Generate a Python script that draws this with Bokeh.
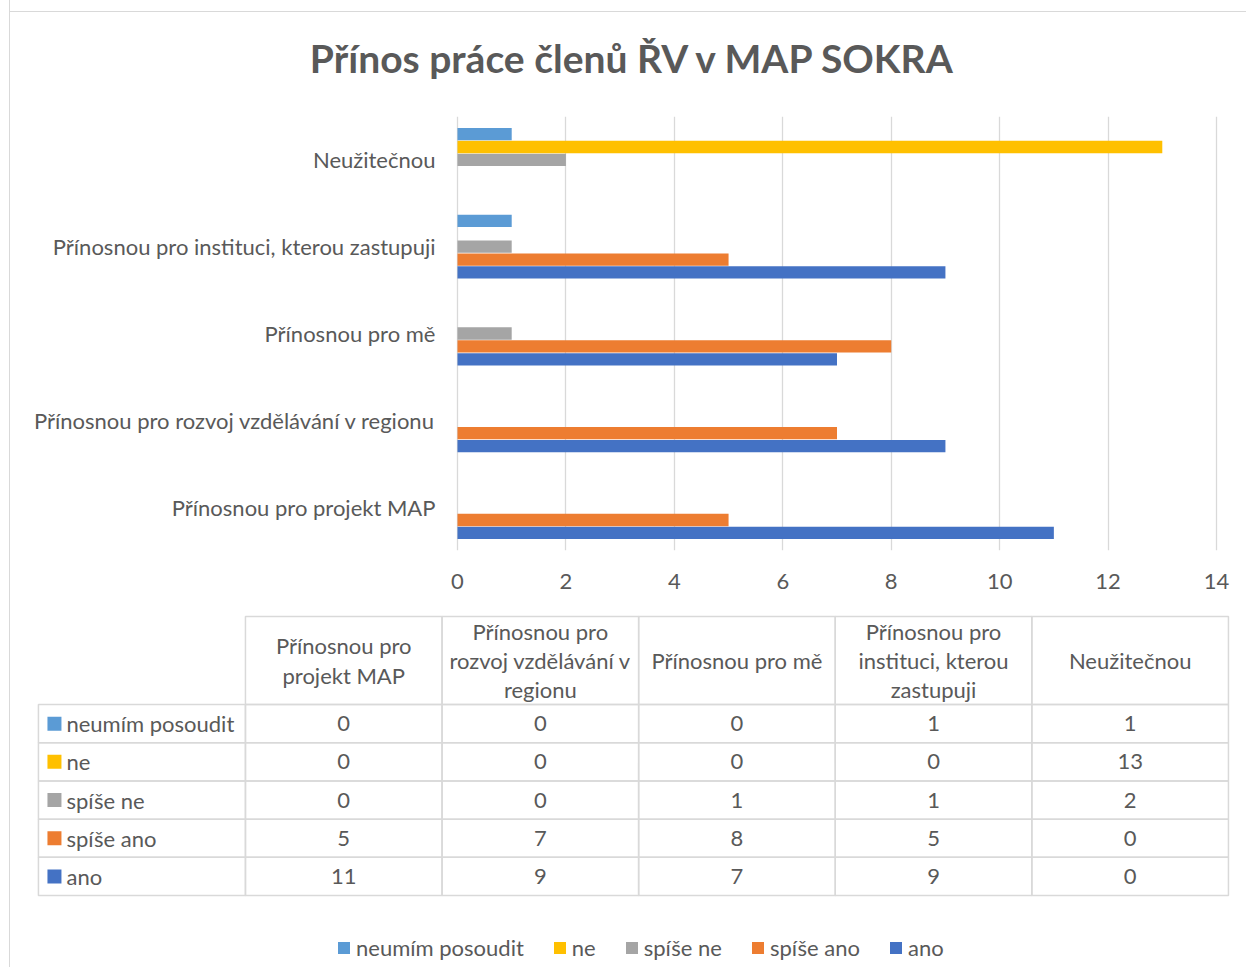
from bokeh.plotting import figure
from bokeh.models import (FactorRange, Range1d, FixedTicker, ColumnDataSource,
                          Legend, LegendItem)
from bokeh.transform import dodge
from bokeh.layouts import column
from bokeh.core.properties import value
from bokeh.embed import file_html
from bokeh.resources import INLINE

# ---------------- data ----------------
title_text = "Přínos práce členů ŘV v MAP SOKRA"
categories = [
    "Přínosnou pro projekt MAP",
    "Přínosnou pro rozvoj vzdělávání v regionu",
    "Přínosnou pro mě",
    "Přínosnou pro instituci, kterou zastupuji",
    "Neužitečnou",
]
header_labels = [
    "Přínosnou pro\nprojekt MAP",
    "Přínosnou pro\nrozvoj vzdělávání v\nregionu",
    "Přínosnou pro mě",
    "Přínosnou pro\ninstituci, kterou\nzastupuji",
    "Neužitečnou",
]
series_names = ["ano", "spíše ano", "spíše ne", "ne", "neumím posoudit"]
series_colors = ["#4472C4", "#ED7D31", "#A5A5A5", "#FFC000", "#5B9BD5"]
ano = [11, 9, 7, 9, 0]
spise_ano = [5, 7, 8, 5, 0]
spise_ne = [0, 0, 1, 1, 2]
ne = [0, 0, 0, 0, 13]
neumim_posoudit = [0, 0, 0, 1, 1]
series_values = [ano, spise_ano, spise_ne, ne, neumim_posoudit]
x_ticks = [0, 2, 4, 6, 8, 10, 12, 14]

TEXT = "#595959"
GRID = "#D9D9D9"
FONT = "Lato"
FS = "22px"

# ---------------- bar chart ----------------
p = figure(width=1236, height=610,
           y_range=FactorRange(factors=categories),
           x_range=Range1d(-7.802, 14.295),
           y_axis_location=None,
           output_backend="svg", toolbar_location=None,
           min_border_left=24, min_border_right=14,
           min_border_top=121, min_border_bottom=55)
p.border_fill_color = None
p.background_fill_color = None

src = ColumnDataSource(dict(cat=categories,
                            **{f"s{k}": v for k, v in enumerate(series_values)}))
bar_h = 0.1486
n_ser = len(series_names)
for k in range(n_ser):
    off = (k - (n_ser - 1) / 2) * bar_h
    p.hbar(y=dodge("cat", off, range=p.y_range), left=0, right=f"s{k}",
           height=bar_h * 0.95, source=src, fill_color=series_colors[k],
           line_color=None)

# category labels, right-aligned just left of the value axis origin
p.text(x=[-0.406] * len(categories), y=categories, text=categories,
       text_align="right", text_baseline="middle",
       text_font=value(FONT), text_font_size=FS, text_color=TEXT)

p.xaxis.ticker = FixedTicker(ticks=x_ticks)
p.xaxis.axis_line_color = None
p.xaxis.major_tick_line_color = None
p.xaxis.minor_tick_line_color = None
p.xaxis.major_label_text_font = FONT
p.xaxis.major_label_text_font_size = FS
p.xaxis.major_label_text_color = TEXT
p.xaxis.major_label_standoff = 17
p.xgrid.grid_line_color = GRID
p.xgrid.grid_line_width = 1.3
p.ygrid.grid_line_color = None
p.outline_line_color = None

p.title.text = title_text
p.title.align = "center"
p.title.text_font = FONT
p.title.text_font_size = "39px"
p.title.text_font_style = "bold"
p.title.text_color = TEXT
p.title.standoff = 71

# ---------------- data table ----------------
n_cat = len(categories)
lab_w = 1.053   # width of row-label column (in column units)
hdr_h = 2.304   # header height (in row units)

t = figure(width=1236, height=362,
           x_range=Range1d(-1.073, 5.0206), y_range=Range1d(-1.884, 7.409),
           x_axis_location=None, y_axis_location=None,
           output_backend="svg", toolbar_location=None,
           min_border_left=24, min_border_right=14,
           min_border_top=7, min_border_bottom=0)
t.grid.visible = False
t.outline_line_color = None
t.border_fill_color = None
t.background_fill_color = None

cx, cy, ctext = [], [], []
for k in range(n_ser):
    for j in range(n_cat):
        cx.append(j + 0.5)
        cy.append(k + 0.5)
        ctext.append(str(series_values[k][j]))
t.rect(x=cx, y=cy, width=1, height=1, fill_color=None,
       line_color=GRID, line_width=1.5)
t.text(x=cx, y=cy, text=ctext, text_align="center", text_baseline="middle",
       text_font=value(FONT), text_font_size=FS, text_color=TEXT)

hx = [j + 0.5 for j in range(n_cat)]
hy = [n_ser + hdr_h / 2] * n_cat
t.rect(x=hx, y=hy, width=1, height=hdr_h, fill_color=None,
       line_color=GRID, line_width=1.5)
t.text(x=hx, y=hy, text=header_labels, text_align="center",
       text_baseline="middle", text_line_height=1.09,
       text_font=value(FONT), text_font_size=FS, text_color=TEXT)

ry = [k + 0.5 for k in range(n_ser)]
t.rect(x=[-lab_w / 2] * n_ser, y=ry, width=lab_w, height=1, fill_color=None,
       line_color=GRID, line_width=1.5)
swatches = []
for k in range(n_ser):
    r = t.rect(x=[-0.9715], y=[ry[k]], width=14, height=14,
               width_units="screen", height_units="screen",
               fill_color=series_colors[k], line_color=None)
    swatches.append(r)
t.text(x=[-0.9105] * n_ser, y=ry, text=series_names, text_align="left",
       text_baseline="middle", text_font=value(FONT), text_font_size=FS,
       text_color=TEXT)

legend = Legend(items=[LegendItem(label=series_names[k], renderers=[swatches[k]])
                       for k in reversed(range(n_ser))],
                orientation="horizontal", location=(302, 6),
                border_line_color=None, background_fill_alpha=0,
                label_text_font=FONT, label_text_font_size=FS,
                label_text_color=TEXT, glyph_width=15, glyph_height=15,
                label_standoff=5, spacing=28, padding=2, margin=0)
t.add_layout(legend)

layout = column(p, t, styles={
    "margin-left": "9px", "margin-top": "-5px",
    "border-left": "1px solid #D9D9D9",
    "background-image": "linear-gradient(#D9D9D9, #D9D9D9)",
    "background-repeat": "no-repeat",
    "background-size": "100% 1px",
    "background-position": "0px 16px",
})

open("out.html", "w").write(file_html(layout, INLINE))
